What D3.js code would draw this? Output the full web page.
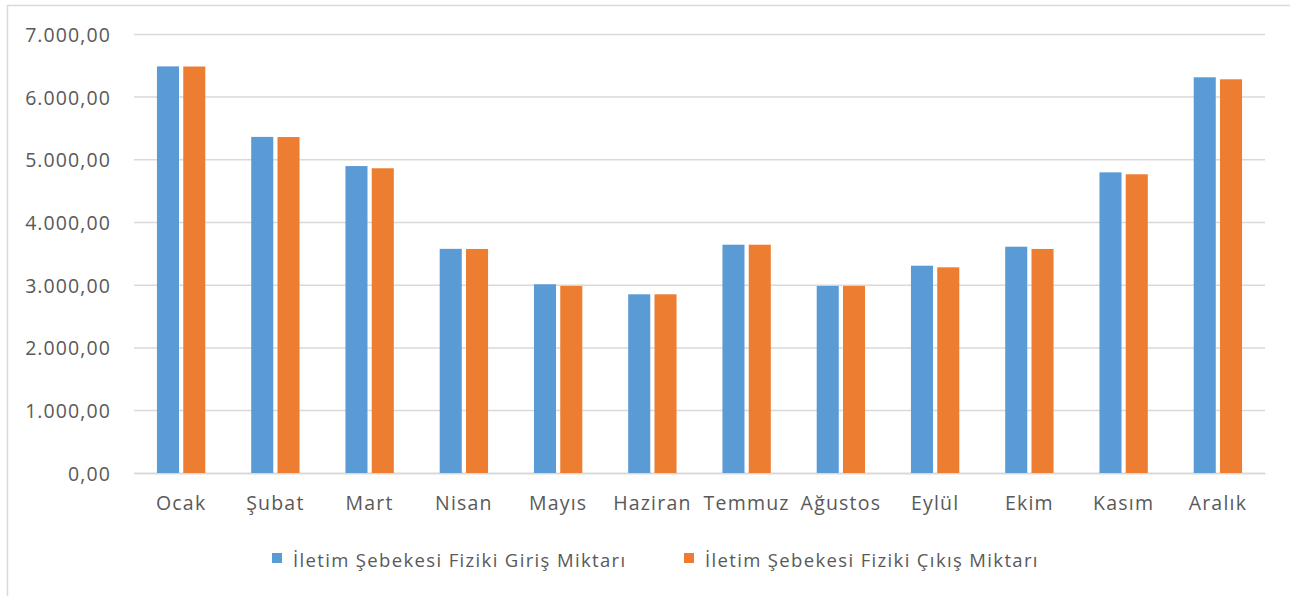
<!DOCTYPE html>
<html>
<head>
<meta charset="utf-8">
<script src="https://cdn.jsdelivr.net/npm/d3@7"></script>
<style>
  html, body { margin: 0; padding: 0; background: #fff; }
  svg { display: block; }
  text { font-family: "Open Sans", "Noto Sans", sans-serif; fill: #595959; }
</style>
</head>
<body>
<svg id="chart" width="1290" height="596"></svg>
<script>
const months = ["Ocak", "Şubat", "Mart", "Nisan", "Mayıs", "Haziran", "Temmuz", "Ağustos", "Eylül", "Ekim", "Kasım", "Aralık"];
const seriesNames = ["İletim Şebekesi Fiziki Giriş Miktarı", "İletim Şebekesi Fiziki Çıkış Miktarı"];
const girisValues = [6490, 5365, 4900, 3580, 3015, 2855, 3646, 2988, 3311, 3614, 4800, 6316];
const cikisValues = [6488, 5363, 4865, 3578, 2988, 2855, 3646, 2988, 3285, 3578, 4769, 6284];
const yTicks = [0, 1000, 2000, 3000, 4000, 5000, 6000, 7000];
const colors = ["#5B9BD5", "#ED7D31"];

const svg = d3.select("#chart");
const margin = { left: 134, right: 1265, top: 34.4, bottom: 473.3 };

// chart border
svg.append("rect")
  .attr("x", 7.5).attr("y", 5.5)
  .attr("width", 1300).attr("height", 620)
  .attr("fill", "none").attr("stroke", "#d9d9d9").attr("stroke-width", 1.5);

const x = d3.scaleBand().domain(months).range([margin.left, margin.right]);
const y = d3.scaleLinear().domain([0, 7000]).range([margin.bottom, margin.top]);

// gridlines
svg.append("g").selectAll("line").data(yTicks).join("line")
  .attr("x1", margin.left).attr("x2", margin.right)
  .attr("y1", d => y(d)).attr("y2", d => y(d))
  .attr("stroke", "#d9d9d9").attr("stroke-width", 1.5);

// y axis labels
const fmt = v => {
  const s = d3.format(",.2f")(v);
  return s.replace(/,/g, "#").replace(/\./g, ",").replace(/#/g, ".");
};
const yAxis = d3.axisLeft(y).tickValues(yTicks).tickFormat(fmt).tickSize(0).tickPadding(0);
const yg = svg.append("g").attr("transform", `translate(111,0)`).call(yAxis);
yg.select(".domain").remove();
yg.selectAll("text").attr("font-size", 19.5).attr("fill", "#595959")
  .style("font-family", "'Open Sans', sans-serif").style("letter-spacing", "1.1px").attr("dy", "0.36em");

// bars
const band = x.bandwidth();
const barW = band * 0.234;
const innerGap = band * 0.045;
const data = months.map((m, i) => ({ m, vals: [girisValues[i], cikisValues[i]] }));
const groups = svg.append("g").selectAll("g").data(data).join("g");
groups.selectAll("rect").data(d => d.vals.map((v, k) => ({ m: d.m, v, k }))).join("rect")
  .attr("x", d => x(d.m) + band / 2 + (d.k === 0 ? -innerGap / 2 - barW : innerGap / 2))
  .attr("width", barW)
  .attr("y", d => y(d.v))
  .attr("height", d => y(0) - y(d.v))
  .attr("fill", d => colors[d.k]);

// x axis
const xAxis = d3.axisBottom(x).tickSize(0).tickPadding(0);
const xg = svg.append("g").attr("transform", `translate(0,${margin.bottom})`).call(xAxis);
xg.select(".domain").attr("stroke", "#d9d9d9").attr("stroke-width", 1.5);
xg.selectAll("text").attr("font-size", 19.5).attr("fill", "#595959")
  .style("font-family", "'Open Sans', sans-serif").style("letter-spacing", "1.2px")
  .attr("y", 37).attr("dy", 0);

// legend
const legendItems = [
  { name: seriesNames[0], color: colors[0], x: 272 },
  { name: seriesNames[1], color: colors[1], x: 684 }
];
const lg = svg.append("g").selectAll("g").data(legendItems).join("g")
  .attr("transform", d => `translate(${d.x},553)`);
lg.append("rect").attr("width", 10).attr("height", 10).attr("fill", d => d.color);
lg.append("text").attr("x", 21).attr("y", 14).attr("font-size", 18.5)
  .style("letter-spacing", "1.35px")
  .text(d => d.name);
</script>
</body>
</html>
